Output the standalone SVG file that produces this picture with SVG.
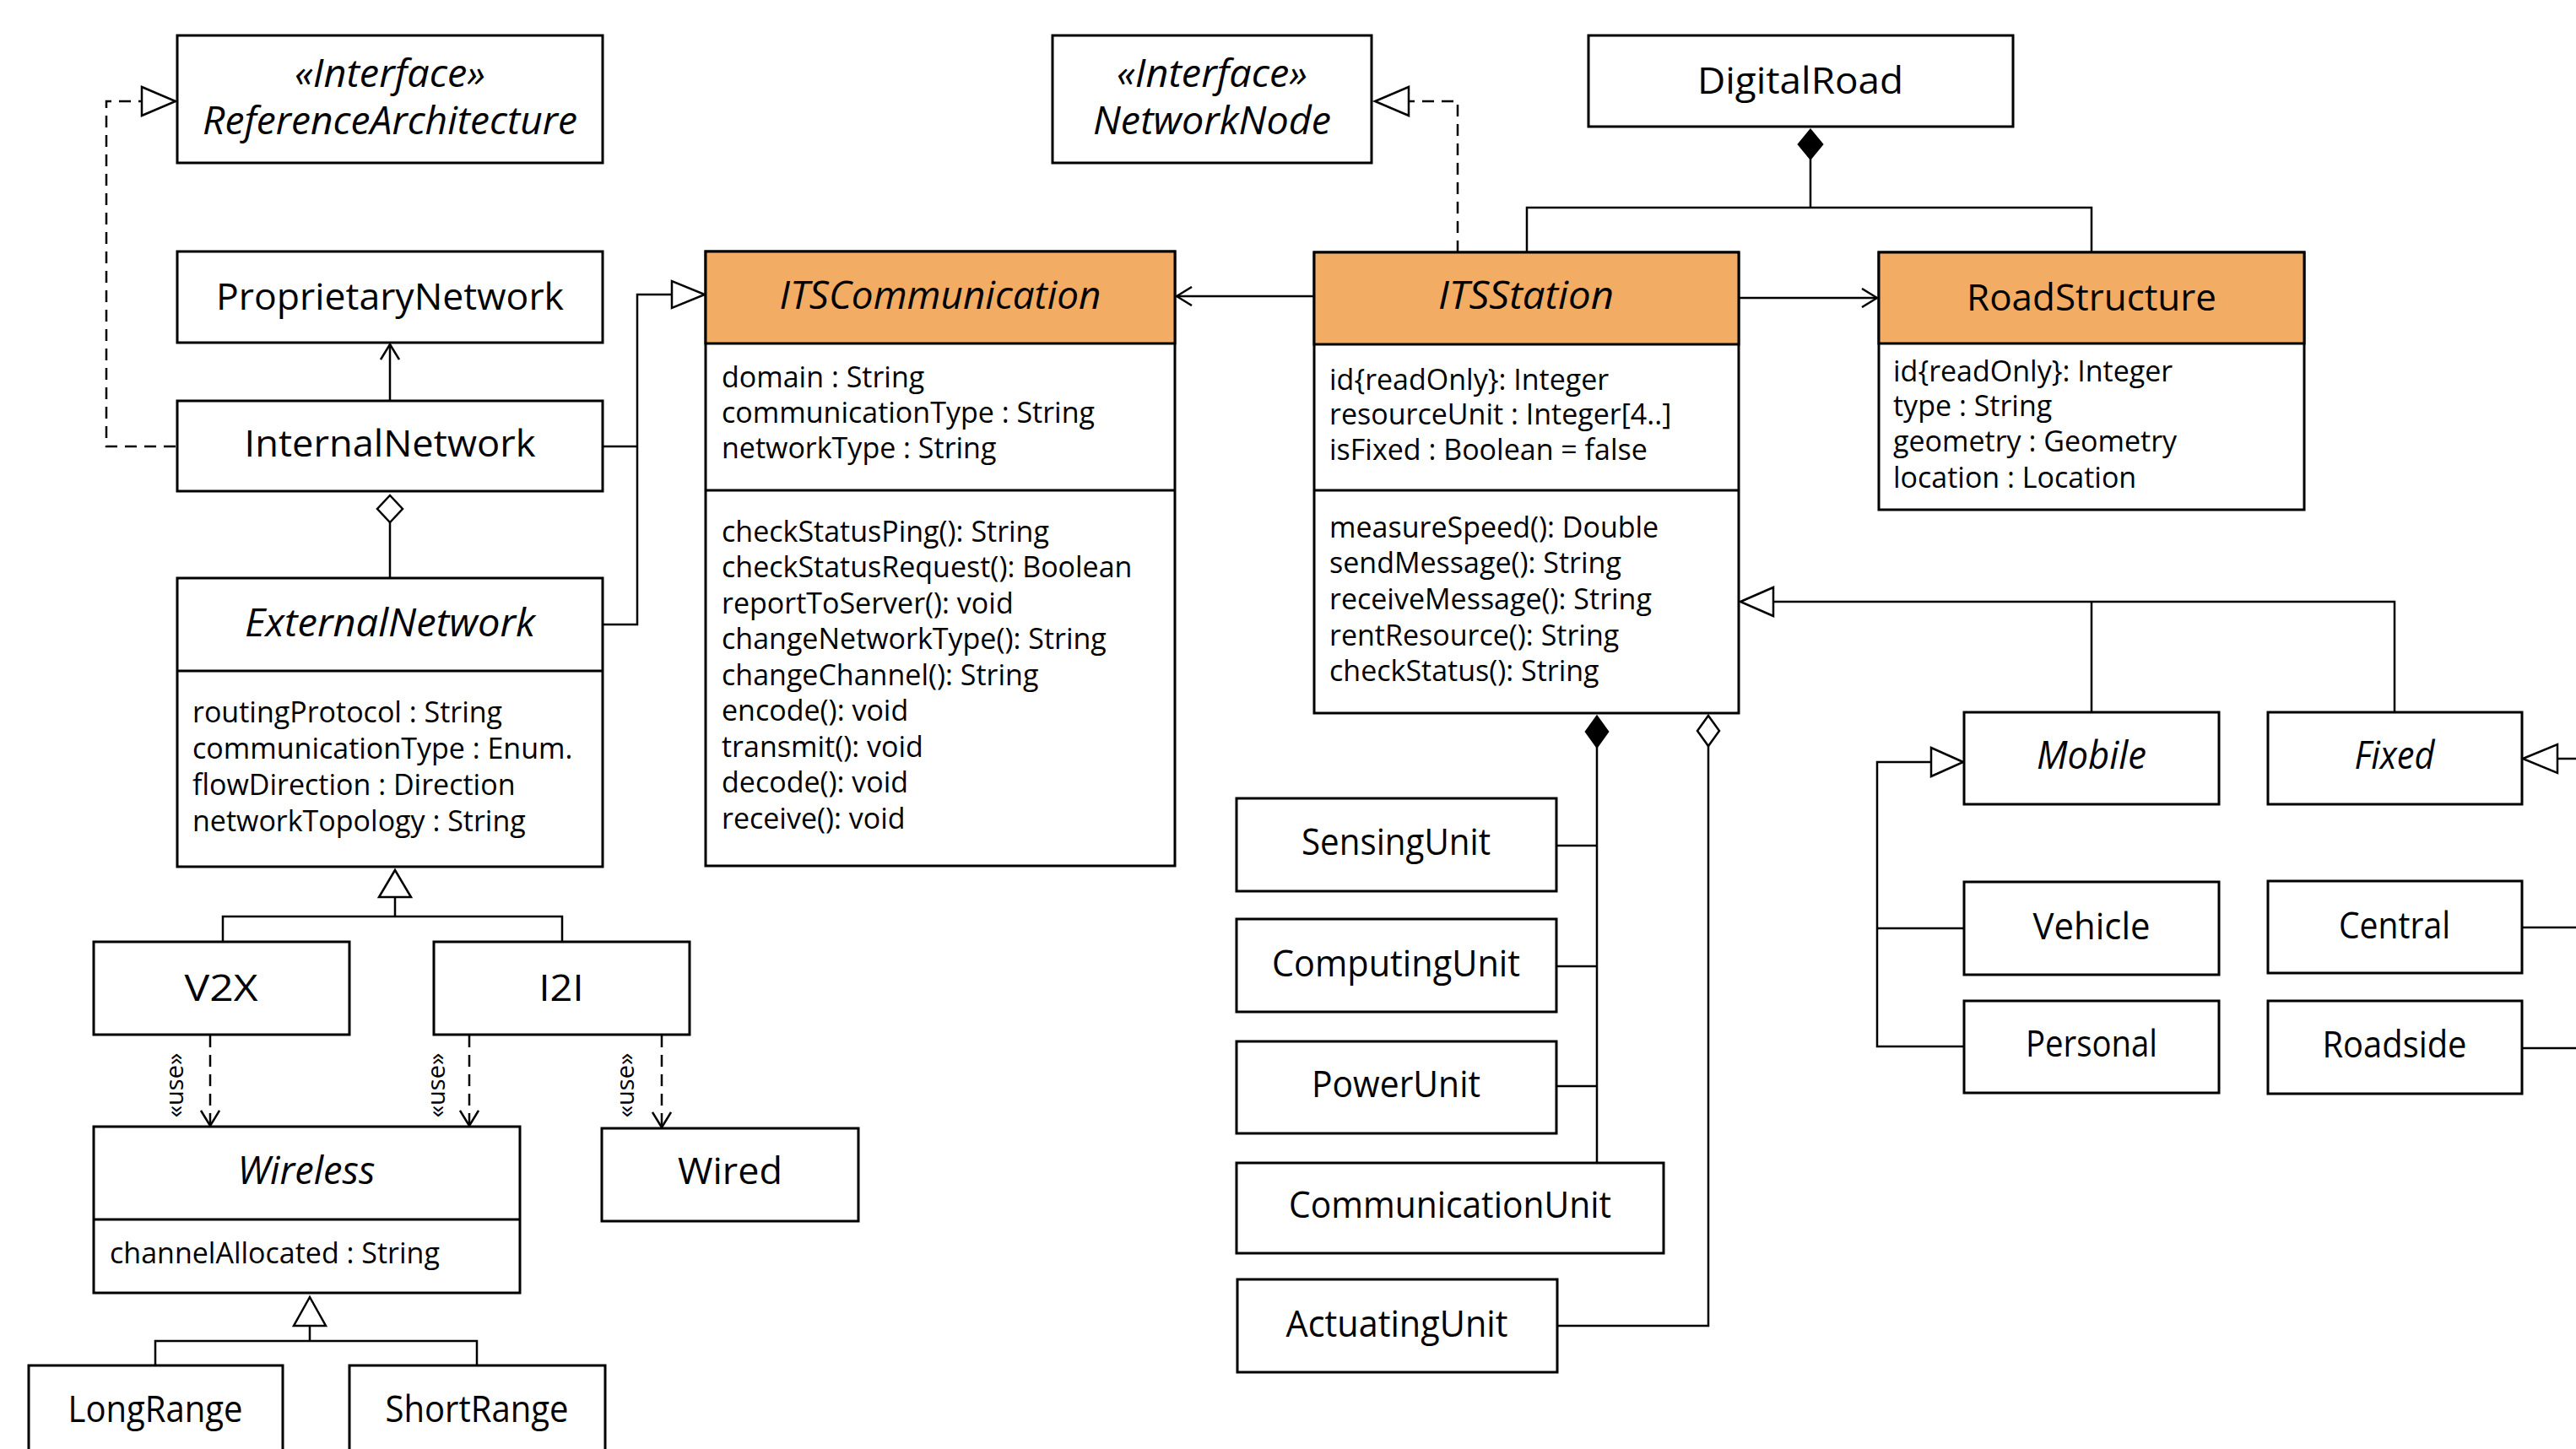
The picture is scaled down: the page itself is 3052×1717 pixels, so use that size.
<svg xmlns="http://www.w3.org/2000/svg" width="3052" height="1717" viewBox="0 0 3052 1717">
<defs>
<style>
.box{fill:#ffffff;stroke:#000;stroke-width:3}
.hdr{fill:#F2AC64;stroke:#000;stroke-width:3}
.sep{stroke:#000;stroke-width:3;fill:none}
.name{font-family:"Open Sans",sans-serif;font-size:44px;fill:#000;text-anchor:middle}
.it{font-style:italic;font-size:46px}
.attr{font-family:"Open Sans",sans-serif;font-size:34px;fill:#000}
.use{font-family:"Open Sans",sans-serif;font-size:29px;fill:#000;text-anchor:middle}
.ln{fill:none;stroke:#000;stroke-width:2.5}
.dash{fill:none;stroke:#000;stroke-width:2.5;stroke-dasharray:14 9}
.tri{fill:#fff;stroke:#000;stroke-width:2.5;stroke-linejoin:miter}
.dia{fill:#fff;stroke:#000;stroke-width:2.5}
.fdia{fill:#000;stroke:#000;stroke-width:2.5}
</style>
<marker id="open" viewBox="0 0 20 24" refX="19" refY="12" markerWidth="20" markerHeight="24" markerUnits="userSpaceOnUse" orient="auto">
<path d="M1,1 L19,12 L1,23" fill="none" stroke="#000" stroke-width="2.5"/>
</marker>
</defs>

<g id="connectors">
<path class="dash" d="M208,529 H126 V120 H168"/>
<polygon class="tri" points="168,103 168,137 208,120"/>
<path class="ln" d="M462,475 V408" marker-end="url(#open)"/>
<polygon class="dia" points="462,587 477,603 462,619 447,603"/>
<path class="ln" d="M462,619 V685"/>
<path class="ln" d="M714,529 H755 M714,740 H755 V349 H796"/>
<polygon class="tri" points="796,333 796,365 835,349"/>
<polygon class="tri" points="468,1031 449,1063 487,1063"/>
<path class="ln" d="M468,1063 V1086 M264,1116 V1086 H666 V1116"/>
<path class="dash" d="M249,1227 V1334" marker-end="url(#open)"/>
<path class="dash" d="M556,1227 V1334" marker-end="url(#open)"/>
<path class="dash" d="M784,1227 V1336" marker-end="url(#open)"/>
<text class="use" transform="translate(217,1286) rotate(-90)">«use»</text>
<text class="use" transform="translate(527,1286) rotate(-90)">«use»</text>
<text class="use" transform="translate(751,1286) rotate(-90)">«use»</text>
<polygon class="tri" points="367,1537 348,1571 386,1571"/>
<path class="ln" d="M367,1571 V1589 M184,1618 V1589 H565 V1618"/>
<path class="ln" d="M1557,351 H1394" marker-end="url(#open)"/>
<path class="dash" d="M1727,299 V120 H1669"/>
<polygon class="tri" points="1669,103 1669,137 1629,120"/>
<polygon class="fdia" points="2145,154 2159,171 2145,188 2131,171"/>
<path class="ln" d="M2145,188 V246 M1809,299 V246 H2478 V299"/>
<path class="ln" d="M2060,353 H2224" marker-end="url(#open)"/>
<polygon class="tri" points="2062,713 2101,696 2101,730"/>
<path class="ln" d="M2101,713 H2837 V844 M2478,713 V844"/>
<polygon class="tri" points="2326,903 2288,886 2288,920"/>
<path class="ln" d="M2288,903 H2224 V1240 H2327 M2224,1100 H2327"/>
<polygon class="tri" points="2989,899 3030,882 3030,916"/>
<path class="ln" d="M3030,899 H3052 M2988,1099 H3052 M2988,1242 H3052"/>
<polygon class="fdia" points="1892,849 1905,867 1892,885 1879,867"/>
<path class="ln" d="M1892,885 V1378 M1844,1002 H1892 M1844,1145 H1892 M1844,1287 H1892"/>
<polygon class="dia" points="2024,848 2037,866 2024,884 2011,866"/>
<path class="ln" d="M2024,884 V1571 H1845"/>
</g>

<g id="ReferenceArchitecture">
<rect class="box" x="210" y="42" width="504" height="151"/>
<text class="name it" x="462" y="103" textLength="226" lengthAdjust="spacingAndGlyphs">«Interface»</text>
<text class="name it" x="462" y="159" textLength="444" lengthAdjust="spacingAndGlyphs">ReferenceArchitecture</text>
</g>
<g id="NetworkNode">
<rect class="box" x="1247" y="42" width="378" height="151"/>
<text class="name it" x="1436" y="103" textLength="226" lengthAdjust="spacingAndGlyphs">«Interface»</text>
<text class="name it" x="1436" y="159" textLength="282" lengthAdjust="spacingAndGlyphs">NetworkNode</text>
</g>
<g id="DigitalRoad">
<rect class="box" x="1882" y="42" width="503" height="108"/>
<text class="name" x="2133" y="111" textLength="244" lengthAdjust="spacingAndGlyphs">DigitalRoad</text>
</g>
<g id="ProprietaryNetwork">
<rect class="box" x="210" y="298" width="504" height="108"/>
<text class="name" x="462" y="367" textLength="412" lengthAdjust="spacingAndGlyphs">ProprietaryNetwork</text>
</g>
<g id="InternalNetwork">
<rect class="box" x="210" y="475" width="504" height="107"/>
<text class="name" x="462" y="541" textLength="345" lengthAdjust="spacingAndGlyphs">InternalNetwork</text>
</g>
<g id="ExternalNetwork">
<rect class="box" x="210" y="685" width="504" height="342"/>
<line class="sep" x1="210" y1="795" x2="714" y2="795"/>
<text class="name it" x="462" y="754" textLength="344" lengthAdjust="spacingAndGlyphs">ExternalNetwork</text>
<text class="attr" x="228" y="856">routingProtocol : String</text>
<text class="attr" x="228" y="899">communicationType : Enum.</text>
<text class="attr" x="228" y="942">flowDirection : Direction</text>
<text class="attr" x="228" y="985">networkTopology : String</text>
</g>
<g id="ITSCommunication">
<rect class="box" x="836" y="298" width="556" height="728"/>
<rect class="hdr" x="836" y="298" width="556" height="109"/>
<line class="sep" x1="836" y1="581" x2="1392" y2="581"/>
<text class="name it" x="1114" y="366" textLength="381" lengthAdjust="spacingAndGlyphs">ITSCommunication</text>
<text class="attr" x="855" y="459">domain : String</text>
<text class="attr" x="855" y="501">communicationType : String</text>
<text class="attr" x="855" y="543">networkType : String</text>
<text class="attr" x="855" y="642">checkStatusPing(): String</text>
<text class="attr" x="855" y="684">checkStatusRequest(): Boolean</text>
<text class="attr" x="855" y="727">reportToServer(): void</text>
<text class="attr" x="855" y="769">changeNetworkType(): String</text>
<text class="attr" x="855" y="812">changeChannel(): String</text>
<text class="attr" x="855" y="854">encode(): void</text>
<text class="attr" x="855" y="897">transmit(): void</text>
<text class="attr" x="855" y="939">decode(): void</text>
<text class="attr" x="855" y="982">receive(): void</text>
</g>
<g id="ITSStation">
<rect class="box" x="1557" y="299" width="503" height="546"/>
<rect class="hdr" x="1557" y="299" width="503" height="109"/>
<line class="sep" x1="1557" y1="581" x2="2060" y2="581"/>
<text class="name it" x="1808" y="366" textLength="208" lengthAdjust="spacingAndGlyphs">ITSStation</text>
<text class="attr" x="1575" y="462">id{readOnly}: Integer</text>
<text class="attr" x="1575" y="503">resourceUnit : Integer[4..]</text>
<text class="attr" x="1575" y="545">isFixed : Boolean = false</text>
<text class="attr" x="1575" y="637">measureSpeed(): Double</text>
<text class="attr" x="1575" y="679">sendMessage(): String</text>
<text class="attr" x="1575" y="722">receiveMessage(): String</text>
<text class="attr" x="1575" y="765">rentResource(): String</text>
<text class="attr" x="1575" y="807">checkStatus(): String</text>
</g>
<g id="RoadStructure">
<rect class="box" x="2226" y="299" width="504" height="305"/>
<rect class="hdr" x="2226" y="299" width="504" height="108"/>
<text class="name" x="2478" y="368" textLength="296" lengthAdjust="spacingAndGlyphs">RoadStructure</text>
<text class="attr" x="2243" y="452">id{readOnly}: Integer</text>
<text class="attr" x="2243" y="493">type : String</text>
<text class="attr" x="2243" y="535">geometry : Geometry</text>
<text class="attr" x="2243" y="578">location : Location</text>
</g>
<g id="Mobile">
<rect class="box" x="2327" y="844" width="302" height="109"/>
<text class="name it" x="2478" y="911" textLength="130" lengthAdjust="spacingAndGlyphs">Mobile</text>
</g>
<g id="Fixed">
<rect class="box" x="2687" y="844" width="301" height="109"/>
<text class="name it" x="2837" y="911" textLength="95" lengthAdjust="spacingAndGlyphs">Fixed</text>
</g>
<g id="Vehicle">
<rect class="box" x="2327" y="1045" width="302" height="110"/>
<text class="name" x="2478" y="1113" textLength="139" lengthAdjust="spacingAndGlyphs">Vehicle</text>
</g>
<g id="Central">
<rect class="box" x="2687" y="1044" width="301" height="109"/>
<text class="name" x="2837" y="1112" textLength="132" lengthAdjust="spacingAndGlyphs">Central</text>
</g>
<g id="Personal">
<rect class="box" x="2327" y="1186" width="302" height="109"/>
<text class="name" x="2478" y="1252" textLength="156" lengthAdjust="spacingAndGlyphs">Personal</text>
</g>
<g id="Roadside">
<rect class="box" x="2687" y="1186" width="301" height="110"/>
<text class="name" x="2837" y="1253" textLength="171" lengthAdjust="spacingAndGlyphs">Roadside</text>
</g>
<g id="SensingUnit">
<rect class="box" x="1465" y="946" width="379" height="110"/>
<text class="name" x="1654" y="1013" textLength="224" lengthAdjust="spacingAndGlyphs">SensingUnit</text>
</g>
<g id="ComputingUnit">
<rect class="box" x="1465" y="1089" width="379" height="110"/>
<text class="name" x="1654" y="1157" textLength="294" lengthAdjust="spacingAndGlyphs">ComputingUnit</text>
</g>
<g id="PowerUnit">
<rect class="box" x="1465" y="1234" width="379" height="109"/>
<text class="name" x="1654" y="1300" textLength="200" lengthAdjust="spacingAndGlyphs">PowerUnit</text>
</g>
<g id="CommunicationUnit">
<rect class="box" x="1465" y="1378" width="506" height="107"/>
<text class="name" x="1718" y="1443" textLength="382" lengthAdjust="spacingAndGlyphs">CommunicationUnit</text>
</g>
<g id="ActuatingUnit">
<rect class="box" x="1466" y="1516" width="379" height="110"/>
<text class="name" x="1655" y="1584" textLength="263" lengthAdjust="spacingAndGlyphs">ActuatingUnit</text>
</g>
<g id="V2X">
<rect class="box" x="111" y="1116" width="303" height="110"/>
<text class="name" x="262" y="1186" textLength="87" lengthAdjust="spacingAndGlyphs">V2X</text>
</g>
<g id="I2I">
<rect class="box" x="514" y="1116" width="303" height="110"/>
<text class="name" x="665" y="1186" textLength="53" lengthAdjust="spacingAndGlyphs">I2I</text>
</g>
<g id="Wireless">
<rect class="box" x="111" y="1335" width="505" height="197"/>
<line class="sep" x1="111" y1="1445" x2="616" y2="1445"/>
<text class="name it" x="363" y="1403" textLength="163" lengthAdjust="spacingAndGlyphs">Wireless</text>
<text class="attr" x="130" y="1497">channelAllocated : String</text>
</g>
<g id="Wired">
<rect class="box" x="713" y="1337" width="304" height="110"/>
<text class="name" x="865" y="1403" textLength="124" lengthAdjust="spacingAndGlyphs">Wired</text>
</g>
<g id="LongRange">
<rect class="box" x="34" y="1618" width="301" height="120"/>
<text class="name" x="184" y="1685" textLength="207" lengthAdjust="spacingAndGlyphs">LongRange</text>
</g>
<g id="ShortRange">
<rect class="box" x="414" y="1618" width="303" height="120"/>
<text class="name" x="565" y="1685" textLength="217" lengthAdjust="spacingAndGlyphs">ShortRange</text>
</g>
</svg>
